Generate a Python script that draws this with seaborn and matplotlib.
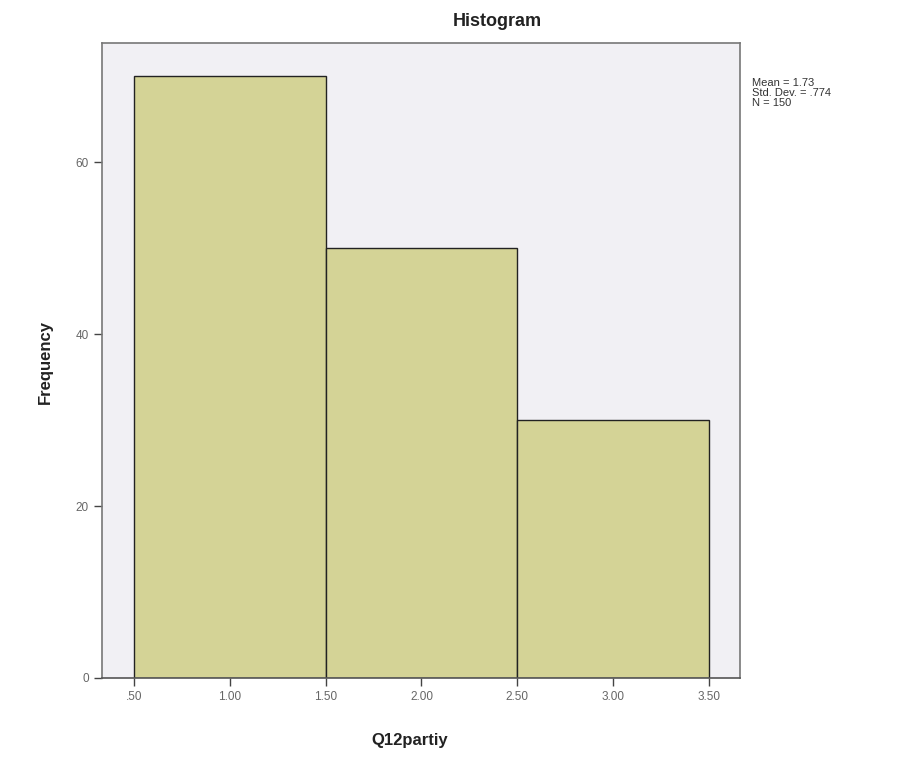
import matplotlib
matplotlib.use("Agg")
import matplotlib.pyplot as plt
import seaborn as sns
import numpy as np

# Q12partiy response categories and their frequencies
categories = [1.0, 2.0, 3.0]
counts = [70, 50, 30]
bin_edges = [0.5, 1.5, 2.5, 3.5]
x_ticks = [0.5, 1.0, 1.5, 2.0, 2.5, 3.0, 3.5]
x_tick_labels = [".50", "1.00", "1.50", "2.00", "2.50", "3.00", "3.50"]
y_ticks = [0, 20, 40, 60]
stats_text = "Mean = 1.73\nStd. Dev. = .774\nN = 150"

sns.set_style("white")
plt.rcParams["font.family"] = ["Liberation Sans", "DejaVu Sans"]

fig = plt.figure(figsize=(9.07, 7.65), dpi=100)
ax = fig.add_axes([102 / 907, 1 - 678 / 765, (740 - 102) / 907, (678 - 43) / 765])
ax.set_facecolor("#f1f0f4")

sns.histplot(x=categories, weights=counts, bins=bin_edges, ax=ax,
             color="#d4d396", alpha=1.0, edgecolor="#222222", linewidth=1.0)

ax.set_xlim(0.333, 3.662)
ax.set_ylim(0, 73.84)
ax.set_xticks(x_ticks)
ax.set_xticklabels(x_tick_labels)
ax.set_yticks(y_ticks)
ax.tick_params(axis="both", bottom=True, left=True, labelsize=8.5,
               color="#444444", length=6, width=1,
               direction="out", labelcolor="#666666")
for side in ["top", "right", "left", "bottom"]:
    ax.spines[side].set_visible(True)
    ax.spines[side].set_color("#777777")
    ax.spines[side].set_linewidth(1.2)
ax.spines["bottom"].set_color("#555555")
ax.set_xlabel("")
ax.set_ylabel("")

fig.text(410 / 907, 1 - 740 / 765, "Q12partiy", ha="center", va="center",
         fontsize=12, fontweight="bold", color="#222222")
fig.text(45 / 907, 1 - 362 / 765, "Frequency", ha="center", va="center",
         rotation=90, fontsize=12, fontweight="bold", color="#222222")
fig.text(497 / 907, 1 - 22 / 765, "Histogram", ha="center", va="center",
         fontsize=13, fontweight="bold", color="#222222")
fig.text(752 / 907, 1 - 78 / 765, stats_text, ha="left", va="top",
         fontsize=8, color="#333333", linespacing=1.0)

fig.savefig("out.png", dpi=100, facecolor="white")
